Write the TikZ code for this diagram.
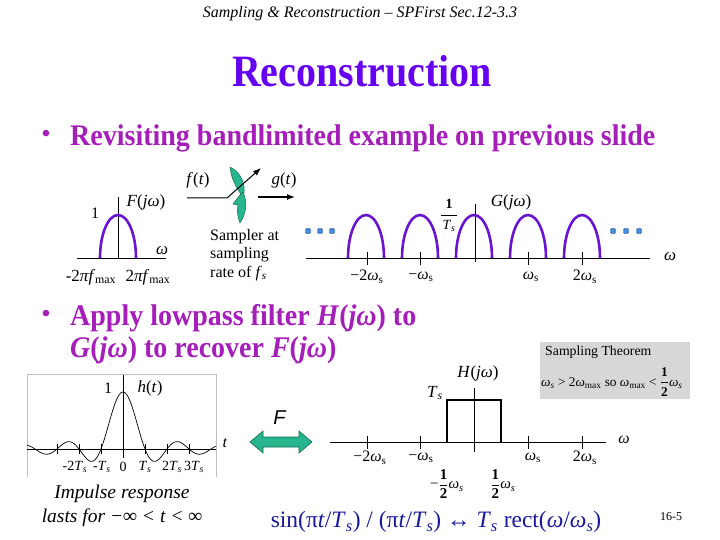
\documentclass[tikz,border=0pt]{standalone}
\usepackage{fontspec}
\usepackage{amsmath}
\usepackage{graphicx}
\setmainfont{Liberation Serif}
\newfontfamily\sansf{Liberation Sans}
\usetikzlibrary{arrows.meta}
\definecolor{titlec}{RGB}{102,0,240}
\definecolor{bulc}{RGB}{165,30,185}
\definecolor{arcc}{RGB}{105,20,210}
\definecolor{dotc}{RGB}{70,140,220}
\definecolor{dotd}{RGB}{30,80,160}
\definecolor{teal1}{RGB}{40,180,140}
\definecolor{teal2}{RGB}{20,110,80}
\definecolor{formc}{RGB}{25,25,160}
\definecolor{boxg}{RGB}{215,215,215}
\newcommand{\om}{\textit{ω}}
\newcommand{\sbs}[1]{\textsubscript{#1}}
\newcommand{\tall}[2]{\scalebox{1}[#1]{#2}}
\begin{document}
\begin{tikzpicture}[x=1pt,y=-1pt,
  lbl/.style={inner sep=0pt},
  fs/.style={font=\fontsize{#1}{#1}\selectfont},
  axis/.style={line width=0.8pt},
  arcstyle/.style={draw=arcc, line width=2.6pt},
  tick/.style={line width=0.8pt},
  leaf/.style={fill=teal1, draw=teal2, line width=0.5pt},
  dotn/.style={fill=dotc, draw=dotd, line width=0.4pt, rounded corners=1pt}]
\useasboundingbox (0,0) rectangle (720,540);

% header and title
\node[lbl, fs=16] (hdr) at (360,14) {\textit{Sampling \& Reconstruction – SPFirst Sec.12-3.3}};
\node[lbl, fs=40, text=titlec, anchor=base] (title) at (362,87) {\tall{1.12}{\textbf{Reconstruction}}};

% bullets
\node[lbl, fs=24, text=bulc] (b1dot) at (46,136) {\textbf{•}};
\node[lbl, fs=28, text=bulc, anchor=base west] (b1) at (70,146) {\tall{1.07}{\textbf{Revisiting bandlimited example on previous slide}}};
\node[lbl, fs=24, text=bulc] (b2dot) at (46,316) {\textbf{•}};
\node[lbl, fs=28, text=bulc, anchor=base west] (b2) at (70,325) {\tall{1.07}{\textbf{Apply lowpass filter \textit{H}(\textit{jω}) to}}};
\node[lbl, fs=28, text=bulc, anchor=base west] (b3) at (70,357) {\tall{1.07}{\textbf{\textit{G}(\textit{jω}) to recover \textit{F}(\textit{jω})}}};

% F(jw) plot
\coordinate (fa1) at (77,258); \coordinate (fa2) at (166,258);
\coordinate (fv1) at (118,197); \coordinate (fv2) at (118,258);
\draw[axis] (fa1) -- (fa2);
\draw[axis] (fv1) -- (fv2);
\draw[arcstyle] (100,258) arc[start angle=180,end angle=360,x radius=18,y radius=43];
\node[lbl, fs=16] (f1) at (95,213) {1};
\node[lbl, fs=17] (fl) at (146,202) {\textit{F}(\textit{jω})};
\node[lbl, fs=17] (fw) at (162,251) {\om};
\node[lbl, fs=17] (fm1) at (91,277) {-2\textit{πf}\sbs{max}};
\node[lbl, fs=17] (fm2) at (148,277) {2\textit{πf}\sbs{max}};

% sampler
\path[leaf] (230,167) .. controls (241,172) and (247,186) .. (243,197) .. controls (238,190) and (231,180) .. cycle;
\path[leaf] (243,192) .. controls (248,203) and (246,214) .. (240,223) .. controls (237,216) and (237,209) .. (238,205) -- (233,204) -- (240,195) -- cycle;
\coordinate (sin) at (187,198); \coordinate (sk) at (227,198); \coordinate (stip) at (261,168);
\draw[line width=1pt, -{Latex[length=8pt,width=6pt]}] (sin) -- (sk) -- (stip);
\coordinate (gs) at (258,197); \coordinate (ge) at (295,197);
\draw[line width=1.4pt, -{Latex[length=8pt,width=6pt]}] (gs) -- (ge);
\node[lbl, fs=17] (ft) at (198,180) {\textit{f}(\textit{t})};
\node[lbl, fs=17] (gt) at (284,180) {\textit{g}(\textit{t})};
\node[lbl, anchor=north west, align=left, font=\fontsize{16}{18.5}\selectfont] (samp) at (210,229) {Sampler at\\sampling\\rate of \textit{f}\sbs{\textit{s}}};

% G(jw) plot
\coordinate (ga1) at (306,258); \coordinate (ga2) at (650,258);
\coordinate (gv1) at (475,204); \coordinate (gv2) at (475,262);
\draw[axis] (ga1) -- (ga2);
\draw[axis] (gv1) -- (gv2);
\foreach \cx in {367,420,528,582} { \draw[tick] (\cx,252) -- (\cx,265); }
\foreach \cx in {366,420,474,528,582} {
  \draw[arcstyle] (\cx-18,258) arc[start angle=180,end angle=360,x radius=18,y radius=43]; }
\foreach \dx in {308,320,332,613,626,639} { \path[dotn] (\dx-2.5,228.5) rectangle (\dx+2.5,233.5); }
\node[lbl, fs=17] (gl) at (511,202) {\textit{G}(\textit{jω})};
\node[lbl, fs=17] (gw) at (670,257) {\om};
\node[lbl, fs=14] (gone) at (449,204) {\textbf{1}};
\draw[line width=0.7pt] (441,215) -- (457,215);
\node[lbl, fs=14] (gts) at (449,226) {\textit{T}\sbs{\textit{s}}};
\node[lbl, fs=16] (g1) at (367,277) {−2\om\sbs{s}};
\node[lbl, fs=16] (g2) at (421,277) {−\om\sbs{s}};
\node[lbl, fs=16] (g3) at (531,277) {\om\sbs{s}};
\node[lbl, fs=16] (g4) at (585,277) {2\om\sbs{s}};

% h(t) plot
\draw[black!25, line width=0.6pt] (27,477) -- (27,374) -- (216,374) -- (216,477);
\coordinate (ha1) at (27,449); \coordinate (ha2) at (216,449);
\coordinate (hv1) at (123,375); \coordinate (hv2) at (123,458);
\draw[line width=0.7pt] (ha1) -- (ha2);
\draw[line width=0.7pt] (hv1) -- (hv2);
\foreach \k in {-3,-2,-1,1,2,3} { \draw[line width=0.6pt] (123+22*\k,444) -- (123+22*\k,454); }
\draw[line width=0.7pt, smooth] plot[domain=-4.36:4.23, samples=201, variable=\u] ({123+22*\u},{449-57*sin(180*\u)/(pi*\u)});
\node[lbl, fs=16] (h1) at (108,388) {1};
\node[lbl, fs=17] (hl) at (150,388) {\textit{h}(\textit{t})};
\node[lbl, fs=16] (htl) at (225,443) {\textit{t}};
\node[lbl, fs=14] (t1) at (75,467) {-2\textit{T}\sbs{\textit{s}}};
\node[lbl, fs=14] (t2) at (102,467) {-\textit{T}\sbs{\textit{s}}};
\node[lbl, fs=14] (t3) at (123,467) {0};
\node[lbl, fs=14] (t4) at (145,467) {\textit{T}\sbs{\textit{s}}};
\node[lbl, fs=14] (t5) at (172,467) {2\textit{T}\sbs{\textit{s}}};
\node[lbl, fs=14] (t6) at (194,467) {3\textit{T}\sbs{\textit{s}}};
\node[lbl, fs=19.5] (imp1) at (122,494) {\textit{Impulse response}};
\node[lbl, fs=19.5] (imp2) at (122,518) {\textit{lasts for −∞ < t < ∞}};

% Fourier double arrow
\path[fill=teal1, draw=teal2, line width=0.6pt] (250,442) -- (263,431) -- (263,437) -- (299,437) -- (299,431) -- (312,442) -- (299,453) -- (299,447) -- (263,447) -- (263,453) -- cycle;
\node[lbl, font=\sansf\fontsize{20}{20}\selectfont] (FF) at (280,418) {\textit{F}};

% H(jw) plot
\coordinate (Ha1) at (330,442); \coordinate (Ha2) at (606,442);
\coordinate (Hv1) at (474,388); \coordinate (Hv2) at (474,452);
\draw[axis] (Ha1) -- (Ha2);
\draw[axis] (Hv1) -- (Hv2);
\foreach \cx in {367,420,528,582} { \draw[tick] (\cx,436) -- (\cx,449); }
\draw[line width=2.4pt] (447,442) -- (447,400) -- (501,400) -- (501,442);
\node[lbl, fs=17] (Hl) at (478,373) {\textit{H}(\textit{jω})};
\node[lbl, fs=17] (Hts) at (435,393) {\textit{T}\sbs{\textit{s}}};
\node[lbl, fs=16] (Hw) at (624,440) {\om};
\node[lbl, fs=16] (H1) at (370,458) {−2\om\sbs{s}};
\node[lbl, fs=16] (H2) at (421,458) {−\om\sbs{s}};
\node[lbl, fs=16] (H3) at (533,458) {\om\sbs{s}};
\node[lbl, fs=16] (H4) at (585,458) {2\om\sbs{s}};
\node[lbl, fs=15] (Hh1) at (447,484) {−$\dfrac{\textbf{1}}{\textbf{2}}$\om\sbs{\textit{s}}};
\node[lbl, fs=15] (Hh2) at (503,484) {$\dfrac{\textbf{1}}{\textbf{2}}$\om\sbs{\textit{s}}};

% Sampling theorem box
\path[fill=boxg] (540,342) rectangle (690,399);
\node[lbl, fs=13.8, anchor=west] (st) at (545,352) {Sampling Theorem};
\node[lbl, fs=13.3, anchor=west] (stf) at (541,382) {\om\sbs{\textit{s}} > 2\om\sbs{max} so \om\sbs{max} < $\dfrac{\textbf{1}}{\textbf{2}}$\om\sbs{\textit{s}}};

% bottom formula
\node[lbl, fs=23.5, text=formc] (form) at (436,522) {sin(π\textit{t}/\textit{T}\sbs{\textit{s}}) / (π\textit{t}/\textit{T}\sbs{\textit{s}}) ↔ \textit{T}\sbs{\textit{s}} rect(\om/\om\sbs{\textit{s}})};
\node[lbl, fs=12] (pg) at (671,517) {16-5};
\end{tikzpicture}
\end{document}
